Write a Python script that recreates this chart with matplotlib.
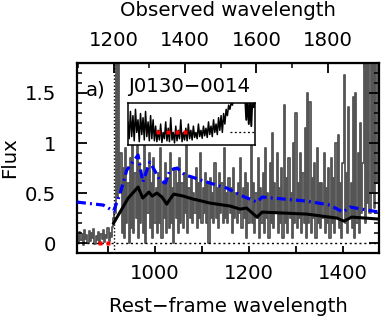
import matplotlib
matplotlib.use("Agg")
import matplotlib.pyplot as plt
import numpy as np
from matplotlib.ticker import MultipleLocator, FixedLocator

# observed / rest-frame wavelength ratio
obs_factor = 1.316

# observed spectrum, 2.5 A grid starting at 835 A (rest frame)
spec_start = 835.0
spec_step = 2.5
flux_below_ll = [0.06, 0.01, 0.11, 0.03, 0.09, -0.02, 0.13, 0.04, 0.08, 0.0,
                 0.12, 0.02, 0.1, 0.05, 0.14, -0.01, 0.07, 0.03, 0.11, 0.0,
                 0.09, 0.04, 0.13, 0.01, 0.08, 0.05, 0.15, 0.02, 0.1, 0.06, 0.16]
flux_edge = [0.25, 0.3, 1.9, 0.45, 1.9, 0.5, 0.9]
flux_lyb = [0.1, 0.75, 0.05, 0.95, 0.2, 0.6, 0.0, 0.85, 0.15, 1.05,
            0.1, 0.7, 0.25, 1.3, 0.05, 0.8, 0.2, 0.65, 0.1, 1.0,
            0.0, 0.75, 0.3, 0.9, 0.15, 0.6, 0.05, 0.85, 0.2]
flux_lya_forest = [0.55, 0.1, 0.7, 0.2, 0.95, 0.05, 0.6, 0.25, 0.8, 0.1,
                   0.65, 0.15, 0.9, 0.2, 0.55, 0.0, 0.75, 0.25, 0.6, 0.1,
                   0.85, 0.2, 0.6, 0.15, 0.7, 0.3, 1.05, 0.1, 0.55, 0.25,
                   0.65, 0.2, 0.5, 0.3, 0.75, 0.15, 0.6, 0.25, 0.9, 0.2,
                   0.55, 0.3, 0.7, 0.2, 0.6, 0.0, 0.65, 0.25, 0.5, 0.2,
                   0.8, 0.25, 0.55, 0.15, 0.7, 0.3, 0.6, 0.2, 0.95, 0.25,
                   0.5, 0.2, 0.65, 0.3, 0.55, 0.1, 0.75, 0.25, 0.5, 0.2,
                   0.6, 0.3, 0.85, 0.15, 0.55, 0.25, 0.7, 0.05, 0.6, 0.2]
flux_red1 = [0.45, 1.05, 0.2, 0.6, 0.1, 0.5, 0.25, 0.85, 0.05, 0.55,
             0.2, 0.7, 0.1, 0.95, 0.25, 0.5, 0.05, 0.8, 0.2, 1.1,
             0.15, 0.6, 0.3, 0.9, 0.1, 0.55, 0.2, 0.75, 0.05, 1.38,
             0.2, 0.65, 0.1, 0.85, 0.25, 0.5, 0.05, 1.0, 0.2, 1.3,
             0.15, 0.6, 0.25, 0.9, 0.1, 0.7, 0.2, 1.15, 0.05, 1.5,
             0.2, 1.41, 0.1, 0.65, 0.25, 0.8, 0.05, 0.95, 0.2, 0.6]
flux_red2 = [0.15, 0.6, 0.25, 0.9, 0.1, 0.55, 0.2, 0.75, 0.05, 0.85,
             0.2, 0.65, 0.1, 1.0, 0.25, 1.08, 0.15, 0.6, 0.05, 0.8,
             1.68, 0.2, 0.7, 0.1, 1.36, 0.25, 0.6, 0.15, 1.46, 0.05,
             1.5, 0.2, 0.9, 0.1, 1.2, 0.3, 0.8, 1.9, 0.2, 1.9,
             0.4, 1.9, 0.3, 1.9, 0.5, 1.9, 0.35, 1.9, 0.6, 1.9,
             0.3]

# black model curve
model_wave = [912, 943, 964, 974, 987, 994, 1004, 1015, 1025, 1032, 1040, 1060,
              1081, 1091, 1117, 1160, 1181, 1195, 1217, 1228, 1323, 1387, 1402,
              1419, 1477]
model_flux = [0.2, 0.45, 0.56, 0.45, 0.51, 0.47, 0.5, 0.46, 0.39, 0.44, 0.49, 0.47,
              0.44, 0.43, 0.40, 0.37, 0.34, 0.35, 0.26, 0.31, 0.29, 0.25, 0.22,
              0.26, 0.24]

# blue dash-dot template
templ_wave = [834, 890, 912, 926, 940, 964, 974, 989, 1000, 1010, 1022, 1032, 1047,
              1064, 1079, 1091, 1117, 1153, 1181, 1217, 1228, 1323, 1372, 1400,
              1415, 1477]
templ_flux = [0.41, 0.38, 0.32, 0.50, 0.73, 0.88, 0.61, 0.81, 0.72, 0.63, 0.60, 0.73,
              0.75, 0.68, 0.66, 0.64, 0.60, 0.55, 0.48, 0.41, 0.46, 0.42, 0.38, 0.31,
              0.36, 0.31]

# masked points at zero
mask_wave = [883, 900]
mask_flux = [0, 0]

# inset: zoom on the spectrum (arbitrary pixel axis)
inset_flux = [0.55, 0.15, 0.8, 0.2, 0.7, 0.1, 0.85, 0.3, 0.6, 0.08,
              0.75, 0.25, 0.65, 0.12, 0.8, 0.2, 0.55, 0.1, 0.7, 0.15, 0.6,
              0.1, 0.45, 0.08, 0.35, 0.12, 0.5, 0.06, 0.3, 0.15, 0.55,
              0.1, 0.4, 0.08, 0.65, 0.12, 0.3, 0.05, 0.45, 0.1, 0.35,
              0.15, 0.6, 0.08, 0.3, 0.12, 0.4, 0.1, 0.5, 0.15, 0.35,
              0.12, 0.45, 0.18, 0.3, 0.15, 0.5, 0.2, 0.35, 0.16, 0.45,
              0.22, 0.4, 0.18, 0.55, 0.25, 0.45, 0.2, 0.6, 0.3, 0.5,
              0.25, 0.65, 0.35, 0.7, 0.3, 0.75, 0.5, 0.85,
              0.7, 0.95, 0.85, 1.0, 0.95, 1.1, 1.2, 1.3]
inset_flux_right = [1.3, 1.2, 0.6, 1.1, 0.5, 1.0, 0.45, 1.2, 0.9, 1.3]
inset_right_start = 92
inset_mask_x = [24, 31.5, 38.6, 45.7]
inset_mask_y = [0.31, 0.31, 0.31, 0.31]

top_ticks = [1200, 1400, 1600, 1800]

flux = np.array(flux_below_ll + flux_edge + flux_lyb + flux_lya_forest + flux_red1 + flux_red2)
wave = spec_start + spec_step * np.arange(len(flux))

plt.rcParams['font.family'] = ['DejaVu Sans']
plt.rcParams['font.size'] = 14.2

fig = plt.figure(figsize=(3.83, 3.18), dpi=100)
ax = fig.add_axes([0.201, 0.204, 0.789, 0.598])

ax.plot(wave, flux, color='#555555', lw=1.3, drawstyle='steps-mid', zorder=1)
ax.plot(model_wave, model_flux, color='black', lw=2.2, zorder=3)
ax.plot(templ_wave, templ_flux, color='blue', lw=2.3,
        linestyle=(0, (2.8, 1.3, 0.6, 1.3)), zorder=3)
ax.axhline(0, color='black', lw=1, linestyle=(0, (1.5, 2)), zorder=2)
ax.axvline(912, color='black', lw=1, linestyle=(0, (1, 1.5)), zorder=2)
ax.plot(mask_wave, mask_flux, 's', color='red', ms=3, mec='none', zorder=4)

ax.set_xlim(834, 1477)
ax.set_ylim(-0.1, 1.8)
ax.set_xlabel("Rest\u2212frame wavelength", labelpad=10)
ax.set_ylabel("Flux", labelpad=4)

ax.xaxis.set_major_locator(MultipleLocator(200))
ax.xaxis.set_minor_locator(MultipleLocator(100))
ax.yaxis.set_major_locator(MultipleLocator(0.5))
ax.yaxis.set_minor_locator(MultipleLocator(0.1))
ax.yaxis.set_major_formatter(plt.FuncFormatter(lambda v, p: f"{v:g}"))
ax.tick_params(axis='x', which='both', direction='in', bottom=True, top=False,
               length=5, width=1.3, pad=8)
ax.tick_params(axis='y', which='major', direction='in', left=True, right=True,
               length=7, width=1.3, pad=15)
ax.tick_params(axis='y', which='minor', direction='in', left=True, right=True,
               length=3.5, width=1.1)
for s in ax.spines.values():
    s.set_linewidth(1.6)

top = ax.secondary_xaxis('top', functions=(lambda x: x * obs_factor,
                                            lambda x: x / obs_factor))
top.xaxis.set_major_locator(FixedLocator(top_ticks))
top.xaxis.set_minor_locator(MultipleLocator(100))
top.tick_params(which='major', direction='in', length=7, width=1.3, pad=9)
top.tick_params(which='minor', direction='in', length=3.5, width=1.1)
top.set_xlabel("Observed wavelength", labelpad=11)

ax.text(0.03, 0.86, "a)", transform=ax.transAxes, ha='left', va='center')
ax.text(0.169, 0.875, "J0130\u22120014", transform=ax.transAxes, ha='left', va='center')

# inset
ins = fig.add_axes([0.334, 0.544, 0.332, 0.132])
ins_x = np.arange(len(inset_flux))
ins.plot(ins_x, inset_flux, color='black', lw=1.1)
ins.plot(inset_right_start + np.arange(len(inset_flux_right)), inset_flux_right,
         color='black', lw=1.4)
ins.plot([len(inset_flux) - 6, 101], [0.31, 0.31], color='black', lw=0.9,
         linestyle=(0, (1.5, 2)))
ins.plot(inset_mask_x, inset_mask_y, 's', color='red', ms=3, mec='none', zorder=4)
ins.set_xlim(0, 101)
ins.set_ylim(0, 1)
ins.set_xticks([])
ins.set_yticks([])
for s in ins.spines.values():
    s.set_linewidth(1.1)

fig.savefig("out.png", dpi=100)
